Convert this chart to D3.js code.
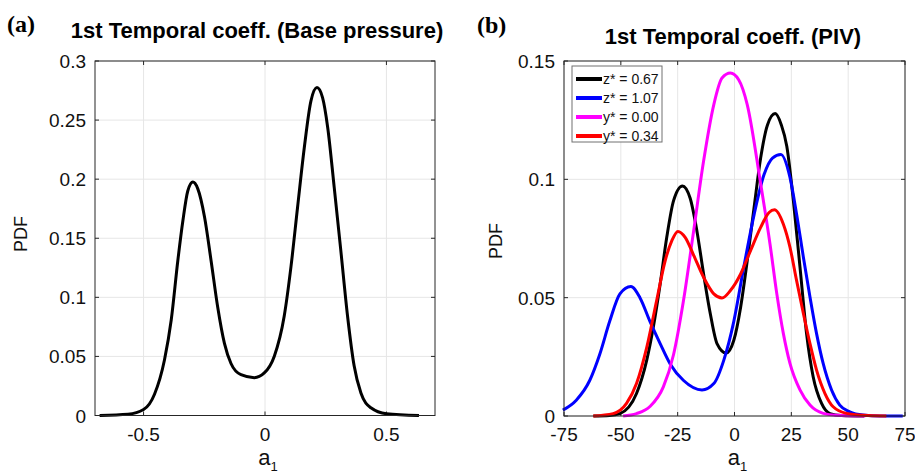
<!DOCTYPE html>
<html>
<head>
<meta charset="utf-8">
<script src="https://cdn.jsdelivr.net/npm/d3@7"></script>
<style>
  body { margin: 0; background: #fff; }
  svg { display: block; font-family: Arial, "Liberation Sans", sans-serif; }
</style>
</head>
<body>
<script>
// panel (a): PDF of 1st temporal coefficient, base pressure
var basePressure = [[-0.681,0],[-0.564,0.001],[-0.5,0.005],[-0.455,0.018],[-0.414,0.047],[-0.386,0.081],
  [-0.359,0.131],[-0.338,0.165],[-0.318,0.19],[-0.297,0.1975],[-0.277,0.192],[-0.249,0.168],[-0.222,0.131],
  [-0.195,0.092],[-0.167,0.061],[-0.140,0.044],[-0.099,0.0345],[-0.044,0.032],[-0.003,0.036],[0.038,0.050],
  [0.079,0.084],[0.107,0.126],[0.134,0.176],[0.162,0.227],[0.189,0.266],[0.214,0.2775],[0.237,0.269],
  [0.258,0.244],[0.285,0.193],[0.312,0.140],[0.340,0.084],[0.367,0.042],[0.395,0.019],[0.436,0.0065],
  [0.5,0.0015],[0.634,0]];

// panel (b): PIV, four planes
var pivZ067 = [[-62,0],[-55,0.0002],[-50.4,0.001],[-43.1,0.0095],[-38.6,0.0236],[-35.7,0.0376],[-32.7,0.0558],
  [-29.8,0.0755],[-26.8,0.091],[-22.9,0.0972],[-19.5,0.092],[-16.5,0.078],[-13.6,0.060],[-10.6,0.043],
  [-7.7,0.0306],[-3.7,0.0266],[-0.3,0.032],[2.7,0.046],[5.6,0.0656],[8.6,0.088],[11.5,0.109],[14.5,0.123],
  [17.9,0.1278],[20.6,0.123],[23.0,0.114],[25.9,0.091],[28.8,0.063],[31.7,0.0348],[34.6,0.0166],
  [38.3,0.0053],[42,0.001],[47,0.0002],[57,0]];
var pivZ107 = [[-75.5,0.0025],[-69.6,0.0067],[-63.7,0.015],[-59.3,0.026],[-54.9,0.040],[-50.4,0.0516],
  [-45.6,0.0547],[-41.6,0.050],[-37.2,0.040],[-32.7,0.0306],[-28.3,0.022],[-22.4,0.015],[-14.3,0.011],
  [-9.1,0.0137],[-4.7,0.0236],[-0.3,0.040],[4.1,0.063],[8.6,0.085],[13.0,0.102],[16.7,0.109],[20.4,0.1105],
  [24.4,0.1008],[27.3,0.0854],[30.3,0.0671],[33.2,0.0503],[36.1,0.0348],[39.0,0.0222],[42.7,0.011],
  [46.3,0.0046],[50.7,0.0018],[56.6,0.0004],[63.9,0],[74,0]];
var pivY000 = [[-49,0],[-43.1,0.001],[-37.2,0.004],[-31.3,0.0123],[-26.8,0.026],[-22.4,0.049],[-18.0,0.078],
  [-13.6,0.1077],[-9.1,0.1316],[-5.5,0.1428],[-1.8,0.1449],[1.9,0.142],[5.6,0.1316],[11.3,0.0994],
  [15.6,0.0728],[18.6,0.0517],[21.5,0.0348],[24.4,0.0222],[28.8,0.011],[33.2,0.0046],[39.0,0.0011],
  [44.9,0.0003],[57.5,0]];
var pivY034 = [[-62.2,0],[-53.4,0.001],[-47.5,0.0053],[-43.1,0.0137],[-38.6,0.029],[-34.2,0.049],[-30.5,0.0656],
  [-27.6,0.074],[-24.9,0.078],[-21.7,0.0755],[-18.0,0.068],[-13.6,0.0586],[-9.1,0.0516],[-5.5,0.0499],
  [-1.8,0.053],[2.7,0.060],[7.1,0.070],[11.5,0.0797],[15.2,0.086],[17.6,0.0871],[21.5,0.081],[24.4,0.0713],
  [27.3,0.0573],[30.3,0.0433],[33.2,0.0306],[36.1,0.0194],[39.8,0.0095],[43.4,0.0039],[49.3,0.0011],
  [56.6,0.0003],[66.8,0]];

var seriesNames = ["z* = 0.67", "z* = 1.07", "y* = 0.00", "y* = 0.34"];
var seriesColors = ["#000000", "#0000ff", "#ff00ff", "#ff0000"];

var xTicksA = [-0.5, 0, 0.5];
var yTicksA = [0, 0.05, 0.1, 0.15, 0.2, 0.25, 0.3];
var xTicksB = [-75, -50, -25, 0, 25, 50, 75];
var yTicksB = [0, 0.05, 0.1, 0.15];

var width = 915, height = 476;

var svg = d3.select("body").append("svg")
    .attr("width", width)
    .attr("height", height);

function drawPanel(p) {
  var x = d3.scaleLinear().domain(p.xDomain).range([p.left, p.right]);
  var y = d3.scaleLinear().domain(p.yDomain).range([p.bottom, p.top]);
  var g = svg.append("g");

  // grid
  g.selectAll(".gx").data(p.xTicks).enter().append("line")
      .attr("x1", d => x(d)).attr("x2", d => x(d))
      .attr("y1", p.top).attr("y2", p.bottom)
      .attr("stroke", "#e6e6e6").attr("stroke-width", 1);
  g.selectAll(".gy").data(p.yTicks).enter().append("line")
      .attr("x1", p.left).attr("x2", p.right)
      .attr("y1", d => y(d)).attr("y2", d => y(d))
      .attr("stroke", "#e6e6e6").attr("stroke-width", 1);

  // inward ticks on all four sides
  var axisCol = "#262626";
  var tl = 4;
  p.xTicks.forEach(function(d) {
    g.append("line").attr("x1", x(d)).attr("x2", x(d)).attr("y1", p.bottom).attr("y2", p.bottom - tl)
        .attr("stroke", axisCol);
    g.append("line").attr("x1", x(d)).attr("x2", x(d)).attr("y1", p.top).attr("y2", p.top + tl)
        .attr("stroke", axisCol);
  });
  p.yTicks.forEach(function(d) {
    g.append("line").attr("x1", p.left).attr("x2", p.left + tl).attr("y1", y(d)).attr("y2", y(d))
        .attr("stroke", axisCol);
    g.append("line").attr("x1", p.right).attr("x2", p.right - tl).attr("y1", y(d)).attr("y2", y(d))
        .attr("stroke", axisCol);
  });

  // tick labels
  g.selectAll(".xl").data(p.xTicks).enter().append("text")
      .attr("x", d => x(d)).attr("y", p.bottom + 25)
      .attr("text-anchor", "middle").attr("font-size", 19).attr("fill", "#111")
      .text(d => String(d));
  g.selectAll(".yl").data(p.yTicks).enter().append("text")
      .attr("x", p.left - 9).attr("y", d => y(d) + 7)
      .attr("text-anchor", "end").attr("font-size", 19).attr("fill", "#111")
      .text(d => String(d));

  // curves
  var line = d3.line()
      .x(d => x(d[0]))
      .y(d => y(d[1]))
      .curve(d3.curveMonotoneX);
  p.series.forEach(function(s) {
    g.append("path")
        .datum(s.data)
        .attr("d", line)
        .attr("fill", "none")
        .attr("stroke", s.color)
        .attr("stroke-width", 3)
        .attr("stroke-linejoin", "round");
  });

  // box
  g.append("rect")
      .attr("x", p.left).attr("y", p.top)
      .attr("width", p.right - p.left).attr("height", p.bottom - p.top)
      .attr("fill", "none").attr("stroke", axisCol).attr("stroke-width", 1);

  // titles and labels
  svg.append("text")
      .attr("x", p.titleX).attr("y", p.titleY)
      .attr("text-anchor", "middle").attr("font-size", 22).attr("font-weight", "bold")
      .text(p.title);
  svg.append("text")
      .attr("x", p.tagX).attr("y", p.tagY)
      .attr("font-family", "'Liberation Serif', 'Times New Roman', serif")
      .attr("font-size", 24).attr("font-weight", "bold")
      .text(p.tag);
  svg.append("text")
      .attr("transform", "translate(" + p.yLabelX + "," + p.yLabelY + ") rotate(-90)")
      .attr("text-anchor", "middle").attr("font-size", 18).attr("fill", "#111")
      .text("PDF");
  var xl = svg.append("text")
      .attr("x", (p.left + p.right) / 2 + 3).attr("y", 465)
      .attr("text-anchor", "middle").attr("font-size", 22).attr("fill", "#111");
  xl.append("tspan").text("a");
  xl.append("tspan").attr("dy", 6).attr("font-size", 13).text("1");

  return { x: x, y: y };
}

drawPanel({
  left: 95, right: 435, top: 61, bottom: 415.5,
  xDomain: [-0.7, 0.7], yDomain: [0, 0.3],
  xTicks: xTicksA, yTicks: yTicksA,
  title: "1st Temporal coeff. (Base pressure)", titleX: 257, titleY: 38,
  tag: "(a)", tagX: 7, tagY: 32, yLabelX: 27, yLabelY: 234,
  series: [{ data: basePressure, color: "#000000" }]
});

var pivData = [pivZ067, pivZ107, pivY000, pivY034];
drawPanel({
  left: 564, right: 905, top: 61, bottom: 416,
  xDomain: [-75, 75], yDomain: [0, 0.15],
  xTicks: xTicksB, yTicks: yTicksB,
  title: "1st Temporal coeff. (PIV)", titleX: 733, titleY: 44,
  tag: "(b)", tagX: 477, tagY: 33, yLabelX: 502, yLabelY: 241,
  series: pivData.map((d, i) => ({ data: d, color: seriesColors[i] }))
});

// legend
var legend = svg.append("g").attr("transform", "translate(572,66)");
legend.append("rect")
    .attr("width", 90).attr("height", 76)
    .attr("fill", "#fff").attr("stroke", "#707070").attr("stroke-width", 1);
seriesNames.forEach(function(name, i) {
  var yy = 13 + i * 19;
  legend.append("line")
      .attr("x1", 4).attr("x2", 30).attr("y1", yy).attr("y2", yy)
      .attr("stroke", seriesColors[i]).attr("stroke-width", 4);
  legend.append("text")
      .attr("x", 31).attr("y", yy + 5)
      .attr("font-size", 14).attr("fill", "#111")
      .text(name);
});
</script>
</body>
</html>
